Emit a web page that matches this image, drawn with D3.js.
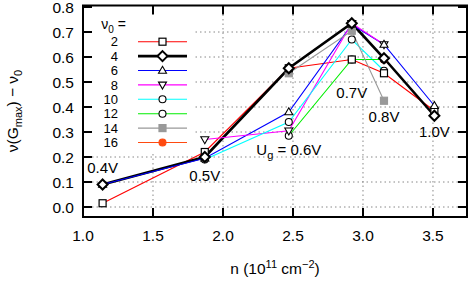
<!DOCTYPE html>
<html>
<head>
<meta charset="utf-8">
<script src="https://cdn.jsdelivr.net/npm/d3@7"></script>
<style>
  body { margin: 0; background: #fff; }
  svg { font-family: "Liberation Sans", Arial, sans-serif; }
</style>
</head>
<body>
<svg width="469" height="284"></svg>
<script>
// carrier density at each gate voltage
const nValues = [1.14, 1.87, 2.47, 2.92, 3.15, 3.51];
const gateLabels = ['0.4V', '0.5V', '0.6V', '0.7V', '0.8V', '1.0V'];
const gateLabelLevel = [0.156, 0.124, 0.228, 0.456, 0.36, 0.30];

// nu(Gmax) - nu0 for each filling factor nu0
const nuLabels = ['2', '4', '6', '8', '10', '12', '14', '16'];
const nu2 = [0.015, 0.22, 0.555, 0.59, 0.535, 0.385];
const nu4 = [0.09, 0.20, 0.555, 0.735, 0.595, 0.365];
const nu6 = [0.09, 0.195, 0.38, 0.73, 0.65, 0.405];
const nu8 = [null, 0.27, 0.305, 0.735, 0.65, null];
const nu10 = [null, 0.19, 0.34, 0.67, 0.545, null];
const nu12 = [null, null, 0.285, 0.59, 0.59, null];
const nu14 = [null, null, 0.535, 0.705, 0.425, null];
const nu16 = [null, null, null, null, 0.59, null];

const xTicks = [1.0, 1.5, 2.0, 2.5, 3.0, 3.5];
const yTicks = [0.0, 0.1, 0.2, 0.3, 0.4, 0.5, 0.6, 0.7, 0.8];

const allSeries = [nu2, nu4, nu6, nu8, nu10, nu12, nu14, nu16];
const colors = ['#ff0000', '#000000', '#0000ff', '#ff00ff', '#00ffff', '#00ee00', '#999999', '#ff4a10'];
const shapes = ['square', 'diamond', 'up', 'down', 'circle', 'circle', 'fsquare', 'fcircle'];

const svg = d3.select('svg');
const plotL = 83, plotR = 467, plotT = 5.5, plotB = 217;

const x = d3.scaleLinear().domain([1.0, 3.743]).range([plotL, plotR]);
const y = d3.scaleLinear().domain([-0.04, 0.806]).range([plotB, plotT]);

// grid
const grid = svg.append('g')
  .attr('stroke', '#888')
  .attr('stroke-width', 1)
  .attr('stroke-dasharray', '1.5,3');
grid.selectAll('.gx')
  .data(xTicks.slice(1))
  .enter().append('line')
  .attr('x1', d => x(d)).attr('x2', d => x(d))
  .attr('y1', plotT).attr('y2', plotB);
grid.selectAll('.gy')
  .data(yTicks.slice(0, -1))
  .enter().append('line')
  .attr('x1', plotL).attr('x2', plotR)
  .attr('y1', d => y(d)).attr('y2', d => y(d));

// legend box hides the grid behind it
svg.append('rect')
  .attr('x', plotL + 1).attr('y', plotT + 1)
  .attr('width', 111).attr('height', 145)
  .attr('fill', '#fff');

function drawMarker(g, shape, cx, cy, color) {
  const s = 3.5;
  if (shape === 'square' || shape === 'fsquare') {
    g.append('rect')
      .attr('x', cx - s).attr('y', cy - s)
      .attr('width', 2 * s).attr('height', 2 * s)
      .attr('fill', shape === 'fsquare' ? color : '#fff')
      .attr('stroke', shape === 'fsquare' ? color : '#000')
      .attr('stroke-width', 1.2);
  } else if (shape === 'diamond') {
    g.append('path')
      .attr('d', `M${cx},${cy - 5}L${cx + 5},${cy}L${cx},${cy + 5}L${cx - 5},${cy}Z`)
      .attr('fill', '#fff').attr('stroke', '#000').attr('stroke-width', 2);
  } else if (shape === 'up') {
    g.append('path')
      .attr('d', `M${cx},${cy - 4.2}L${cx + 4},${cy + 2.8}L${cx - 4},${cy + 2.8}Z`)
      .attr('fill', '#fff').attr('stroke', '#000').attr('stroke-width', 1.1);
  } else if (shape === 'down') {
    g.append('path')
      .attr('d', `M${cx},${cy + 4.2}L${cx + 4},${cy - 2.8}L${cx - 4},${cy - 2.8}Z`)
      .attr('fill', '#fff').attr('stroke', '#000').attr('stroke-width', 1.1);
  } else {
    g.append('circle')
      .attr('cx', cx).attr('cy', cy).attr('r', 3.5)
      .attr('fill', shape === 'fcircle' ? color : '#fff')
      .attr('stroke', shape === 'fcircle' ? color : '#000')
      .attr('stroke-width', 1.1);
  }
}

// series lines
const line = d3.line()
  .defined(d => d.v !== null)
  .x(d => x(d.n))
  .y(d => y(d.v));

allSeries.forEach((vals, i) => {
  const pts = vals.map((v, j) => ({ n: nValues[j], v: v }));
  svg.append('path')
    .datum(pts)
    .attr('fill', 'none')
    .attr('stroke', colors[i])
    .attr('stroke-width', i === 1 ? 2.6 : 1.1)
    .attr('d', line);
});

// markers, drawn from highest nu0 down so nu0=4 sits on top
const markers = svg.append('g');
[7, 6, 5, 4, 0, 3, 2, 1].forEach(i => {
  allSeries[i].forEach((v, j) => {
    if (v === null) return;
    drawMarker(markers, shapes[i], x(nValues[j]), y(v), colors[i]);
  });
});

// legend
const leg = svg.append('g').attr('font-size', 13);
const title = leg.append('text')
  .attr('x', 126).attr('y', 29)
  .attr('font-size', 14)
  .attr('text-anchor', 'end');
title.append('tspan').text('ν');
title.append('tspan').attr('dy', 4).attr('font-size', 10).text('0');
title.append('tspan').attr('dy', -4).text(' =');

nuLabels.forEach((lab, i) => {
  const ly = 41.7 + i * 14.4;
  leg.append('text')
    .attr('x', 118).attr('y', ly + 4.7)
    .attr('text-anchor', 'end')
    .text(lab);
  leg.append('line')
    .attr('x1', 138).attr('x2', 187)
    .attr('y1', ly).attr('y2', ly)
    .attr('stroke', colors[i])
    .attr('stroke-width', i === 1 ? 2.6 : 1.1);
  drawMarker(leg, shapes[i], 162.5, ly, colors[i]);
});

// gate voltage annotations
const ann = svg.append('g').attr('font-size', 15).attr('text-anchor', 'middle');
gateLabels.forEach((lab, j) => {
  const t = ann.append('text')
    .attr('x', x(nValues[j]))
    .attr('y', y(gateLabelLevel[j]) + 5.3);
  if (j === 2) {
    t.append('tspan').text('U');
    t.append('tspan').attr('dy', 4).attr('font-size', 11).text('g');
    t.append('tspan').attr('dy', -4).text(' = ' + lab);
  } else {
    t.text(lab);
  }
});

// frame
svg.append('rect')
  .attr('x', plotL).attr('y', plotT)
  .attr('width', plotR - plotL).attr('height', plotB - plotT)
  .attr('fill', 'none')
  .attr('stroke', '#000')
  .attr('stroke-width', 2);

// axes with inward ticks on all four sides
const tickLen = 9;
const axes = svg.append('g').attr('stroke', '#000').attr('stroke-width', 2);
xTicks.slice(1).forEach(d => {
  axes.append('line').attr('x1', x(d)).attr('x2', x(d)).attr('y1', plotB).attr('y2', plotB - tickLen);
  axes.append('line').attr('x1', x(d)).attr('x2', x(d)).attr('y1', plotT).attr('y2', plotT + tickLen);
});
yTicks.forEach(d => {
  axes.append('line').attr('x1', plotL).attr('x2', plotL + tickLen).attr('y1', y(d)).attr('y2', y(d));
  axes.append('line').attr('x1', plotR).attr('x2', plotR - tickLen).attr('y1', y(d)).attr('y2', y(d));
});

const labels = svg.append('g').attr('font-size', 15.5);
labels.selectAll('.xl')
  .data(xTicks)
  .enter().append('text')
  .attr('x', d => x(d))
  .attr('y', 241)
  .attr('text-anchor', 'middle')
  .text(d3.format('.1f'));
labels.selectAll('.yl')
  .data(yTicks)
  .enter().append('text')
  .attr('x', 74)
  .attr('y', d => y(d) + 5.5)
  .attr('text-anchor', 'end')
  .text(d3.format('.1f'));

// axis titles
const xt = svg.append('text')
  .attr('x', 275).attr('y', 274)
  .attr('font-size', 15.5)
  .attr('text-anchor', 'middle');
xt.append('tspan').text('n (10');
xt.append('tspan').attr('dy', -6).attr('font-size', 11).text('11');
xt.append('tspan').attr('dy', 6).text(' cm');
xt.append('tspan').attr('dy', -6).attr('font-size', 11).text('−2');
xt.append('tspan').attr('dy', 6).text(')');

const yt = svg.append('text')
  .attr('transform', 'translate(18,111) rotate(-90)')
  .attr('font-size', 15.5)
  .attr('text-anchor', 'middle');
yt.append('tspan').text('ν(G');
yt.append('tspan').attr('dy', 4).attr('font-size', 11).text('max');
yt.append('tspan').attr('dy', -4).text(') − ν');
yt.append('tspan').attr('dy', 4).attr('font-size', 11).text('0');
</script>
</body>
</html>
